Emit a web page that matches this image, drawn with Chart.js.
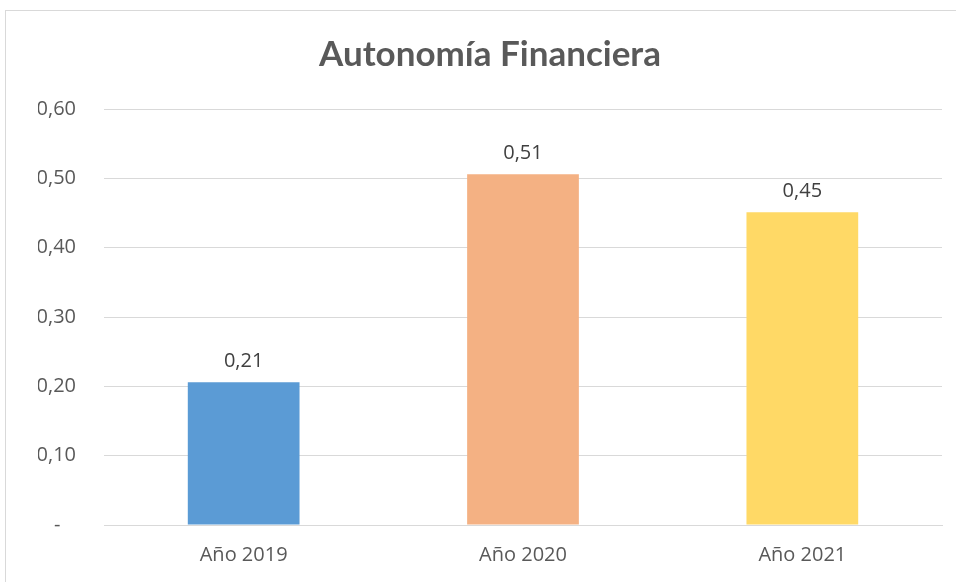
<!DOCTYPE html>
<html>
<head>
<meta charset="utf-8">
<script src="https://cdn.jsdelivr.net/npm/chart.js@4.4.0/dist/chart.umd.min.js"></script>
<style>
  html, body { margin: 0; padding: 0; background: #fff; }
  #wrap { position: relative; width: 956px; height: 582px; overflow: hidden; }
  #frame { position: absolute; left: 5px; top: 10px; width: 980px; height: 600px; border: 1px solid #D9D9D9; box-sizing: border-box; }
  canvas { position: absolute; left: 0; top: 0; }
</style>
</head>
<body>
<div id="wrap">
  <div id="frame"></div>
  <canvas id="c" width="956" height="582"></canvas>
</div>
<script>
const chartTitle = "Autonomía Financiera";
const categories = ["Año 2019", "Año 2020", "Año 2021"];
const values = [0.206, 0.506, 0.451];
const barColors = ["#5B9BD5", "#F4B183", "#FFD966"];
const yTicks = [0, 0.1, 0.2, 0.3, 0.4, 0.5, 0.6];

function fmt(v) {
  if (Math.abs(v) < 1e-9) return "-   ";
  return v.toFixed(2).replace(".", ",");
}

const valueLabels = {
  id: "valueLabels",
  afterDatasetsDraw(chart) {
    const ctx = chart.ctx;
    const meta = chart.getDatasetMeta(0);
    ctx.save();
    ctx.font = "20px 'Open Sans'";
    ctx.fillStyle = "#404040";
    ctx.textAlign = "center";
    ctx.textBaseline = "middle";
    meta.data.forEach((bar, i) => {
      ctx.fillText(fmt(values[i]), bar.x, bar.y - 21);
    });
    ctx.restore();
  }
};

new Chart(document.getElementById("c"), {
  type: "bar",
  data: {
    labels: categories,
    datasets: [{
      data: values,
      backgroundColor: barColors,
      borderWidth: 0,
      categoryPercentage: 1,
      barPercentage: 0.4
    }]
  },
  options: {
    responsive: false,
    animation: false,
    events: [],
    layout: { padding: { left: 38, right: 14, top: 0, bottom: 10 } },
    plugins: {
      legend: { display: false },
      tooltip: { enabled: false },
      title: {
        display: true,
        text: chartTitle,
        color: "#595959",
        font: { family: "Lato", size: 35, weight: "bold", lineHeight: 1.2 },
        padding: { top: 34, bottom: 33 }
      }
    },
    scales: {
      x: {
        grid: { display: false, drawTicks: false },
        border: { display: true, color: "#D9D9D9", width: 1 },
        ticks: { color: "#595959", font: { family: "Open Sans", size: 20 }, padding: 18 },
        afterFit(scale) { scale.height = 47; }
      },
      y: {
        min: 0,
        max: 0.6,
        afterBuildTicks(scale) { scale.ticks = yTicks.map(v => ({ value: v })); },
        grid: { color: "#D9D9D9", lineWidth: 1, drawTicks: false },
        border: { display: false },
        ticks: {
          color: "#595959",
          font: { family: "Open Sans", size: 20 },
          padding: 28,
          callback: (v) => fmt(v)
        },
        afterFit(scale) { scale.width = 66; }
      }
    }
  },
  plugins: [valueLabels]
});
</script>
</body>
</html>
